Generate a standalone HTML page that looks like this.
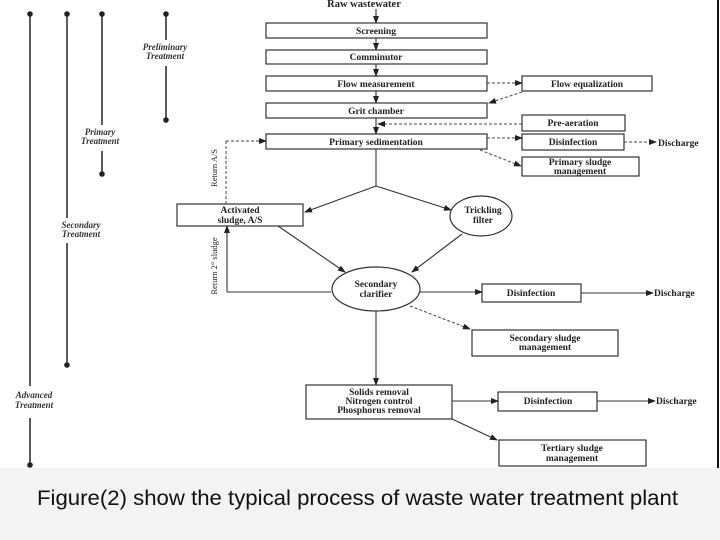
<!DOCTYPE html>
<html><head><style>
html,body{margin:0;padding:0;width:720px;height:540px;overflow:hidden;background:#fff}
svg{display:block}
text{font-family:"Liberation Serif",serif;}
.b{font-weight:bold;font-size:9.5px;fill:#222;text-anchor:middle}
.i{font-style:italic;font-weight:bold;font-size:9px;fill:#333;text-anchor:middle}
.bx{fill:#fff;stroke:#333;stroke-width:1.2}
.l{stroke:#333;stroke-width:1.1;fill:none}
.d{stroke:#444;stroke-width:1;fill:none;stroke-dasharray:3,2}
.v{stroke:#333;stroke-width:1.6}
</style></head><body>
<svg width="720" height="540" viewBox="0 0 720 540">
<defs>
<marker id="a" markerWidth="8" markerHeight="6" refX="7" refY="3" orient="auto" markerUnits="userSpaceOnUse"><path d="M0,0 L8,3 L0,6 z" fill="#222"/></marker>
</defs>
<rect x="0" y="0" width="720" height="468" fill="#fff"/>
<line x1="718" y1="0" x2="718" y2="468" stroke="#111" stroke-width="2"/>
<rect x="0" y="468" width="720" height="72" fill="#f3f3f3"/>
<text x="37" y="505" textLength="641" lengthAdjust="spacingAndGlyphs" style="font-family:'Liberation Sans',sans-serif;font-size:21px;fill:#111">Figure(2) show the typical process of waste water treatment plant</text>

<!-- stage lines -->
<line class="v" x1="30" y1="14" x2="30" y2="386"/><line class="v" x1="30" y1="418" x2="30" y2="465"/>
<circle cx="30" cy="14" r="2.8" fill="#222"/><circle cx="30" cy="465" r="2.8" fill="#222"/>
<line class="v" x1="67" y1="14" x2="67" y2="218"/><line class="v" x1="67" y1="243" x2="67" y2="365"/>
<circle cx="67" cy="14" r="2.8" fill="#222"/><circle cx="67" cy="365" r="2.8" fill="#222"/>
<line class="v" x1="102" y1="14" x2="102" y2="125"/><line class="v" x1="102" y1="151" x2="102" y2="174"/>
<circle cx="102" cy="14" r="2.8" fill="#222"/><circle cx="102" cy="174" r="2.8" fill="#222"/>
<line class="v" x1="166" y1="14" x2="166" y2="40"/><line class="v" x1="166" y1="66" x2="166" y2="120"/>
<circle cx="166" cy="14" r="2.8" fill="#222"/><circle cx="166" cy="120" r="2.8" fill="#222"/>
<text class="i" x="165" y="50">Preliminary</text><text class="i" x="165" y="59">Treatment</text>
<text class="i" x="100" y="135">Primary</text><text class="i" x="100" y="144">Treatment</text>
<text class="i" x="81" y="228">Secondary</text><text class="i" x="81" y="237">Treatment</text>
<text class="i" x="34" y="398">Advanced</text><text class="i" x="34" y="408">Treatment</text>

<!-- main column -->
<text class="b" x="364" y="7" style="font-size:10.5px">Raw wastewater</text>
<line class="l" x1="376" y1="9" x2="376" y2="23" marker-end="url(#a)"/>
<rect class="bx" x="266" y="23" width="221" height="15"/><text class="b" x="376" y="34">Screening</text>
<line class="l" x1="376" y1="38" x2="376" y2="50" marker-end="url(#a)"/>
<rect class="bx" x="266" y="50" width="221" height="14"/><text class="b" x="376" y="60">Comminutor</text>
<line class="l" x1="376" y1="64" x2="376" y2="76" marker-end="url(#a)"/>
<rect class="bx" x="266" y="76" width="221" height="15"/><text class="b" x="376" y="87">Flow measurement</text>
<line class="l" x1="376" y1="91" x2="376" y2="103" marker-end="url(#a)"/>
<rect class="bx" x="266" y="103" width="221" height="15"/><text class="b" x="376" y="114">Grit chamber</text>
<line class="l" x1="376" y1="118" x2="376" y2="134" marker-end="url(#a)"/>
<rect class="bx" x="266" y="134" width="221" height="15"/><text class="b" x="376" y="145">Primary sedimentation</text>

<!-- right side primary -->
<rect class="bx" x="522" y="76" width="130" height="15"/><text class="b" x="587" y="87">Flow equalization</text>
<line class="d" x1="487" y1="83" x2="522" y2="83" marker-end="url(#a)"/>
<line class="d" x1="522" y1="92" x2="489" y2="103" marker-end="url(#a)"/>
<rect class="bx" x="522" y="115" width="103" height="16"/><text class="b" x="573" y="126">Pre-aeration</text>
<line class="d" x1="522" y1="124" x2="378" y2="124" marker-end="url(#a)"/>
<rect class="bx" x="522" y="134" width="102" height="16"/><text class="b" x="573" y="145">Disinfection</text>
<line class="d" x1="487" y1="138" x2="522" y2="138" marker-end="url(#a)"/>
<line class="d" x1="624" y1="142" x2="656" y2="142" marker-end="url(#a)"/>
<text class="b" x="658" y="146" style="text-anchor:start">Discharge</text>
<rect class="bx" x="522" y="157" width="117" height="19"/><text class="b" x="580" y="165">Primary sludge</text><text class="b" x="580" y="174">management</text>
<line class="d" x1="480" y1="150" x2="521" y2="166" marker-end="url(#a)"/>

<!-- branch -->
<line class="l" x1="376" y1="149" x2="376" y2="186"/>
<line class="l" x1="376" y1="186" x2="305" y2="212" marker-end="url(#a)"/>
<line class="l" x1="376" y1="186" x2="451" y2="210" marker-end="url(#a)"/>
<rect class="bx" x="177" y="204" width="126" height="22"/><text class="b" x="240" y="213">Activated</text><text class="b" x="240" y="223">sludge, A/S</text>
<ellipse class="bx" cx="481" cy="216" rx="31" ry="20"/><text class="b" x="483" y="213">Trickling</text><text class="b" x="483" y="223">filter</text>
<line class="d" x1="226" y1="204" x2="226" y2="141"/><line class="d" x1="226" y1="141" x2="266" y2="141" marker-end="url(#a)"/>
<text class="b" transform="translate(217,168) rotate(-90)" style="font-weight:normal;font-size:8.5px">Return A/S</text>
<line class="l" x1="278" y1="226" x2="345" y2="272" marker-end="url(#a)"/>
<line class="l" x1="462" y1="234" x2="412" y2="272" marker-end="url(#a)"/>
<line class="l" x1="331" y1="292" x2="227" y2="292"/><line class="l" x1="227" y1="292" x2="227" y2="226" marker-end="url(#a)"/>
<text class="b" transform="translate(217,266) rotate(-90)" style="font-weight:normal;font-size:8.5px">Return 2° sludge</text>
<ellipse class="bx" cx="376" cy="289" rx="44" ry="22"/><text class="b" x="376" y="287">Secondary</text><text class="b" x="376" y="297">clarifier</text>
<rect class="bx" x="482" y="284" width="99" height="18"/><text class="b" x="531" y="296">Disinfection</text>
<line class="l" x1="420" y1="292" x2="482" y2="292" marker-end="url(#a)"/>
<line class="l" x1="581" y1="293" x2="653" y2="293" marker-end="url(#a)"/>
<text class="b" x="654" y="296" style="text-anchor:start">Discharge</text>
<rect class="bx" x="472" y="330" width="146" height="26"/><text class="b" x="545" y="341">Secondary sludge</text><text class="b" x="545" y="350">management</text>
<line class="d" x1="410" y1="306" x2="470" y2="329" marker-end="url(#a)"/>
<line class="l" x1="376" y1="311" x2="376" y2="385" marker-end="url(#a)"/>
<rect class="bx" x="306" y="385" width="146" height="34"/><text class="b" x="379" y="395">Solids removal</text><text class="b" x="379" y="404">Nitrogen control</text><text class="b" x="379" y="413">Phosphorus removal</text>
<rect class="bx" x="498" y="392" width="99" height="19"/><text class="b" x="548" y="404">Disinfection</text>
<line class="l" x1="452" y1="401" x2="498" y2="401" marker-end="url(#a)"/>
<line class="l" x1="597" y1="401" x2="655" y2="401" marker-end="url(#a)"/>
<text class="b" x="656" y="404" style="text-anchor:start">Discharge</text>
<rect class="bx" x="499" y="440" width="147" height="26"/><text class="b" x="572" y="451">Tertiary sludge</text><text class="b" x="572" y="461">management</text>
<line class="l" x1="452" y1="419" x2="497" y2="440" marker-end="url(#a)"/>
</svg>
</body></html>
